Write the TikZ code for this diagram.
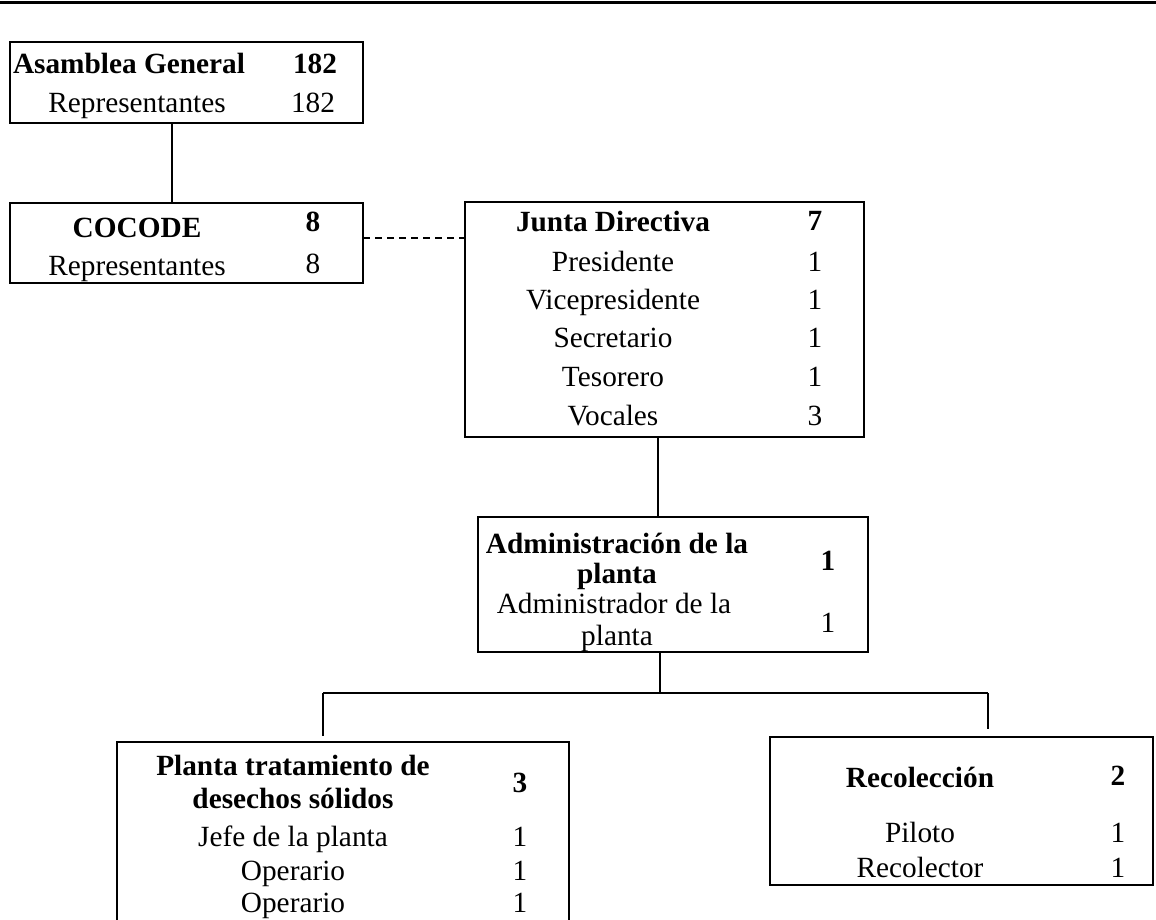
\documentclass[tikz,border=0pt]{standalone}
\usepackage{fontspec}
\setmainfont{Liberation Serif}
\tikzset{
  box/.style={draw, line width=1.4pt, inner sep=0pt, outer sep=0pt},
  txt/.style={inner sep=0pt, anchor=base, font=\fontsize{29.3}{31}\selectfont},
  head/.style={txt, font=\fontsize{29.3}{31}\selectfont\bfseries},
  link/.style={line width=1.6pt},
}
\begin{document}
\begin{tikzpicture}[x=1pt,y=-1pt]
\useasboundingbox (0,0) rectangle (1156,920);
\draw[line width=3pt] (0,3) -- (1156,3);
% boxes
\node[box, minimum width=353pt, minimum height=81pt] (asamblea) at (186.5,82.5) {};
\node[box, minimum width=353pt, minimum height=80pt] (cocode) at (186.5,243) {};
\node[box, minimum width=399pt, minimum height=235pt] (junta) at (664.5,319.5) {};
\node[box, minimum width=390pt, minimum height=135pt] (admin) at (673,584.5) {};
\node[box, minimum width=452pt, minimum height=228pt] (planta) at (343,856) {};
\node[box, minimum width=383pt, minimum height=148pt] (recoleccion) at (961.5,811) {};
% Asamblea General
\node[head] (asamblea-t) at (129,74) {Asamblea General};
\node[head] (asamblea-n) at (315,74) {182};
\node[txt] (asamblea-r) at (137,113) {Representantes};
\node[txt] (asamblea-rn) at (313,113) {182};
% COCODE
\node[head] (cocode-t) at (137,237) {COCODE};
\node[head] (cocode-n) at (313,232) {8};
\node[txt] (cocode-r) at (137,275) {Representantes};
\node[txt] (cocode-rn) at (313,273) {8};
% Junta Directiva
\node[head] (junta-t) at (613,232) {Junta Directiva};
\node[head] (junta-n) at (815,230) {7};
\node[txt] (junta-1) at (613,271) {Presidente};
\node[txt] (junta-1n) at (815,271) {1};
\node[txt] (junta-2) at (613,309) {Vicepresidente};
\node[txt] (junta-2n) at (815,309) {1};
\node[txt] (junta-3) at (613,347) {Secretario};
\node[txt] (junta-3n) at (815,347) {1};
\node[txt] (junta-4) at (613,386) {Tesorero};
\node[txt] (junta-4n) at (815,386) {1};
\node[txt] (junta-5) at (613,425) {Vocales};
\node[txt] (junta-5n) at (815,425) {3};
% Administracion
\node[head] (admin-t) at (617,553) {Administración de la};
\node[head] (admin-t2) at (617,583) {planta};
\node[head] (admin-n) at (828,570) {1};
\node[txt] (admin-r) at (614,613) {Administrador de la};
\node[txt] (admin-r2) at (617,645) {planta};
\node[txt] (admin-rn) at (828,632) {1};
% Planta tratamiento
\node[head] (planta-t) at (293,775) {Planta tratamiento de};
\node[head] (planta-t2) at (293,808) {desechos sólidos};
\node[head] (planta-n) at (520,792) {3};
\node[txt] (planta-1) at (293,846) {Jefe de la planta};
\node[txt] (planta-1n) at (520,846) {1};
\node[txt] (planta-2) at (293,880) {Operario};
\node[txt] (planta-2n) at (520,880) {1};
\node[txt] (planta-3) at (293,912) {Operario};
\node[txt] (planta-3n) at (520,912) {1};
% Recoleccion
\node[head] (recoleccion-t) at (920,787) {Recolección};
\node[head] (recoleccion-n) at (1118,785) {2};
\node[txt] (recoleccion-1) at (920,842) {Piloto};
\node[txt] (recoleccion-1n) at (1118,842) {1};
\node[txt] (recoleccion-2) at (920,877) {Recolector};
\node[txt] (recoleccion-2n) at (1118,877) {1};
% connectors
\coordinate (axA) at (172,0);
\coordinate (dashY) at (0,238);
\coordinate (axB) at (658,0);
\coordinate (bus) at (660,693);
\coordinate (busL) at (323,693);
\coordinate (busR) at (988,693);
\coordinate (plantaTop) at (323,736);
\coordinate (recolTop) at (988,729);
\draw[link] (asamblea.south -| axA) -- (cocode.north -| axA);
\draw[link, dash pattern=on 7pt off 5pt] (cocode.east |- dashY) -- (junta.west |- dashY);
\draw[link] (junta.south -| axB) -- (admin.north -| axB);
\draw[link] (admin.south -| bus) -- (bus);
\draw[link] (busL) -- (busR);
\draw[link] (busL) -- (plantaTop);
\draw[link] (busR) -- (recolTop);
\end{tikzpicture}
\end{document}
